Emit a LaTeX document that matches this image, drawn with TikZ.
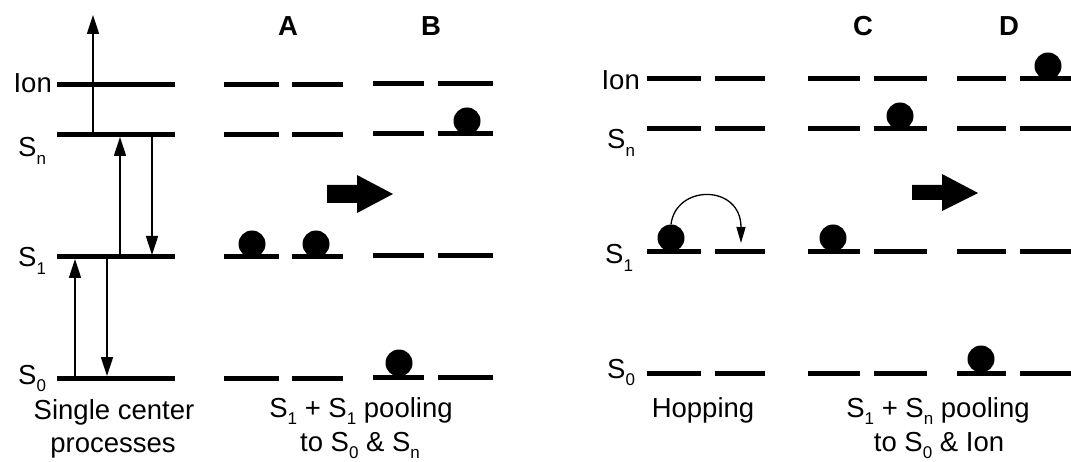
\documentclass[tikz,border=0pt]{standalone}
\usepackage{fontspec}
\setmainfont{Liberation Sans}
\usetikzlibrary{arrows.meta}
\newcommand\lsb[1]{\raisebox{-0.28em}{\fontsize{17}{17}\selectfont #1}}
\begin{document}
\begin{tikzpicture}[x=1pt,y=-1pt,
 level/.style={line width=5pt},
 thinarrow/.style={line width=1.7pt,-{Triangle[length=19pt,width=12pt]}},
 hoparrow/.style={line width=1.3pt,-{Triangle[length=16pt,width=9pt]}},
 ball/.style={circle,fill=black,inner sep=0pt,minimum size=27pt},
 txt/.style={font=\fontsize{27.5}{33}\selectfont,inner sep=0pt},
 hdr/.style={font=\fontsize{27.5}{33}\selectfont\bfseries,inner sep=0pt,anchor=base},
 bigarrow/.style={fill=black}]
\useasboundingbox (0,0) rectangle (1071,462);
% levels
\foreach \y in {85,135,257,378} {
  \draw[level] (57,\y) -- (175,\y);
  \draw[level] (224,\y) -- (279,\y);
  \draw[level] (292,\y) -- (343,\y);
}
\foreach \y in {84,134,256,377} {
  \draw[level] (373,\y) -- (424,\y);
  \draw[level] (438,\y) -- (493,\y);
}
\foreach \y in {79,129,252,373} {
  \draw[level] (647,\y) -- (701,\y);
  \draw[level] (715,\y) -- (765,\y);
  \draw[level] (808,\y) -- (860,\y);
  \draw[level] (874,\y) -- (927,\y);
  \draw[level] (957,\y) -- (1006,\y);
  \draw[level] (1020,\y) -- (1071,\y);
}
% level labels
\node[txt,anchor=base east] (lIon) at (52,93) {Ion};
\node[txt,anchor=base west] (lSn) at (18,157) {S\lsb{n}};
\node[txt,anchor=base west] (lS1) at (18,267) {S\lsb{1}};
\node[txt,anchor=base west] (lS0) at (18,384) {S\lsb{0}};
\node[txt,anchor=base east] (rIon) at (640,90) {Ion};
\node[txt,anchor=base west] (rSn) at (607,149) {S\lsb{n}};
\node[txt,anchor=base west] (rS1) at (605,264) {S\lsb{1}};
\node[txt,anchor=base west] (rS0) at (607,378) {S\lsb{0}};
% headers
\node[hdr] (hA) at (288,36) {A};
\node[hdr] (hB) at (431,36) {B};
\node[hdr] (hC) at (863,36) {C};
\node[hdr] (hD) at (1009,36) {D};
% single centre arrows
\coordinate (a1s) at (93,135);  \coordinate (a1e) at (93,15);
\coordinate (a2s) at (120,257); \coordinate (a2e) at (120,137);
\coordinate (a3s) at (152,135); \coordinate (a3e) at (152,255);
\coordinate (a4s) at (75,378);  \coordinate (a4e) at (75,259);
\coordinate (a5s) at (107,257); \coordinate (a5e) at (107,376);
\draw[thinarrow] (a1s) -- (a1e);
\draw[thinarrow] (a2s) -- (a2e);
\draw[thinarrow] (a3s) -- (a3e);
\draw[thinarrow] (a4s) -- (a4e);
\draw[thinarrow] (a5s) -- (a5e);
% balls
\node[ball] (bA1) at (252,244) {};
\node[ball] (bA2) at (316,244) {};
\node[ball] (bB1) at (467,121) {};
\node[ball] (bB2) at (399,363) {};
\node[ball] (hb) at (671,238) {};
\node[ball] (bC1) at (900,116) {};
\node[ball] (bC2) at (833,238) {};
\node[ball] (bD1) at (1048,66) {};
\node[ball] (bD2) at (981,359) {};
% hopping arrow
\coordinate (hopEnd) at (741,243);
\draw[hoparrow] (hb.north) .. controls (676,184) and (741,184) .. (hopEnd);
% big arrows
\fill[bigarrow] (327,185) -- (357,185) -- (357,175) -- (393,194) -- (357,213) -- (357,203) -- (327,203) -- cycle;
\fill[bigarrow] (912,185) -- (942,185) -- (942,174) -- (978,193) -- (942,211) -- (942,200) -- (912,200) -- cycle;
% captions
\node[txt,anchor=base] (c1a) at (114,419) {Single center};
\node[txt,anchor=base] (c1b) at (113,452) {processes};
\node[txt,anchor=base] (c2a) at (361,417) {S\lsb{1} + S\lsb{1} pooling};
\node[txt,anchor=base] (c2b) at (360,451) {to S\lsb{0} \& S\lsb{n}};
\node[txt,anchor=base] (c3) at (703,417) {Hopping};
\node[txt,anchor=base] (c4a) at (938,417) {S\lsb{1} + S\lsb{n} pooling};
\node[txt,anchor=base] (c4b) at (939,451) {to S\lsb{0} \& Ion};
\end{tikzpicture}
\end{document}
